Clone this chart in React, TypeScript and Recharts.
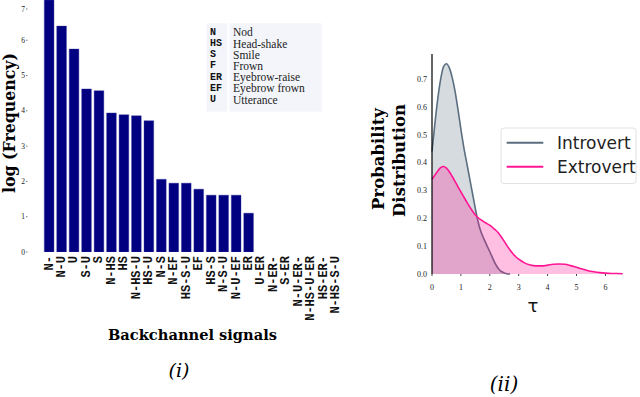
import React from 'react';
import { BarChart, Bar, XAxis, YAxis, AreaChart, Area } from 'recharts';

// ---- Panel (i): backchannel signal frequencies ----
const signals = ['N-', 'N-U', 'U', 'S-U', 'S', 'N-HS', 'HS', 'N-HS-U', 'HS-U', 'N-S', 'N-EF', 'HS-S-U', 'EF', 'HS-S', 'N-S-U', 'N-U-EF', 'ER', 'U-ER', 'N-ER-', 'S-ER', 'N-U-ER-', 'N-HS-U-ER', 'HS-ER-', 'N-HS-S-U'];
const logFrequency = [7.14, 6.4, 5.75, 4.62, 4.57, 3.94, 3.89, 3.86, 3.72, 2.06, 1.95, 1.95, 1.78, 1.61, 1.61, 1.61, 1.1, 0, 0, 0, 0, 0, 0, 0];
const freqTicks = [0, 1, 2, 3, 4, 5, 6, 7];

const legendCodes = ['N', 'HS', 'S', 'F', 'ER', 'EF', 'U'];
const legendNames = ['Nod', 'Head-shake', 'Smile', 'Frown', 'Eyebrow-raise', 'Eyebrow frown', 'Utterance'];

// ---- Panel (ii): density of tau ----
const tau = [0, 0.1, 0.2, 0.3, 0.4, 0.5, 0.6, 0.7, 0.8, 0.9, 1.0, 1.1, 1.2, 1.3, 1.4, 1.5, 1.6, 1.7, 1.8, 1.9, 2.0, 2.1, 2.2, 2.3, 2.4, 2.5, 2.6, 2.7, 2.8, 2.9, 3.0, 3.2, 3.4, 3.6, 3.8, 4.0, 4.2, 4.4, 4.6, 4.8, 5.0, 5.2, 5.4, 5.6, 5.8, 6.0, 6.2, 6.4, 6.6];
const introvert = [0.44, 0.54, 0.63, 0.70, 0.745, 0.755, 0.74, 0.705, 0.655, 0.59, 0.52, 0.455, 0.40, 0.345, 0.29, 0.235, 0.185, 0.15, 0.125, 0.102, 0.08, 0.057, 0.035, 0.019, 0.009, 0.004, 0.001, 0];
const extrovert = [0.34, 0.355, 0.37, 0.382, 0.386, 0.38, 0.367, 0.35, 0.332, 0.313, 0.295, 0.277, 0.259, 0.242, 0.226, 0.212, 0.202, 0.194, 0.187, 0.181, 0.175, 0.167, 0.158, 0.147, 0.133, 0.117, 0.101, 0.086, 0.073, 0.062, 0.053, 0.04, 0.032, 0.029, 0.029, 0.032, 0.035, 0.036, 0.035, 0.03, 0.024, 0.018, 0.012, 0.008, 0.005, 0.003, 0.002, 0.002, 0.001];
const tauTicks = [0, 1, 2, 3, 4, 5, 6];
const probTicks = [0, 0.1, 0.2, 0.3, 0.4, 0.5, 0.6, 0.7];

const barData = signals.map((s, i) => ({ signal: s, logFrequency: logFrequency[i] }));
const densityData = tau.map((t, i) => ({
  tau: t,
  introvert: i < introvert.length ? introvert[i] : null,
  extrovert: extrovert[i],
}));

const INTRO = '#5b6e80';
const EXTRO = '#ff1493';

const SignalTick = (props: any) => {
  const { x, y, payload } = props;
  return (
    <text
      x={x}
      y={y}
      transform={`rotate(-90 ${x} ${y})`}
      textAnchor="end"
      dominantBaseline="central"
      fontFamily="Liberation Mono"
      fontWeight="bold"
      fontSize={12}
      fill="#111"
    >
      {payload.value}
    </text>
  );
};

const FreqTick = (props: any) => {
  const { x, y, payload } = props;
  return (
    <g>
      <text x={x} y={y} textAnchor="end" dominantBaseline="central" fontFamily="Liberation Serif" fontSize={7.5} fill="#222" stroke="none">
        {payload.value}
      </text>
      <line x1={x + 1} x2={x + 2.5} y1={y} y2={y} stroke="#555" strokeWidth={0.8} />
    </g>
  );
};

export default function App() {
  return (
    <div style={{ position: 'absolute', left: 0, top: 0, width: 640, height: 397, background: '#fff', overflow: 'hidden' }}>
      <div style={{ position: 'absolute', left: 0, top: 0 }}>
        <BarChart width={360} height={397} data={barData} margin={{ top: 0, right: 17.5, bottom: 115, left: 13.27 }} barSize={9.7}>
          <XAxis dataKey="signal" interval={0} tickLine={false} axisLine={false} tickSize={0} tickMargin={4} height={30} tick={(p: any) => <SignalTick {...p} />} />
          <YAxis type="number" domain={[0, 7.14]} ticks={freqTicks} allowDataOverflow width={30} axisLine={false} tickLine={false} tickSize={0} tickMargin={18.3} tick={(p: any) => <FreqTick {...p} />} />
          <Bar dataKey="logFrequency" fill="#000080" stroke="#3a3aa0" strokeWidth={0.4} isAnimationActive={false} />
        </BarChart>
      </div>
      <div style={{ position: 'absolute', left: 360, top: 0 }}>
        <AreaChart width={280} height={397} data={densityData} margin={{ top: 54, right: 5.7, bottom: 93, left: 32 }}>
          <XAxis type="number" dataKey="tau" domain={[0, 7]} ticks={tauTicks} axisLine={false} tickSize={2} tickMargin={8} height={30} tickLine={{ stroke: '#444' }} tick={{ fontSize: 8, fill: '#222', stroke: 'none', fontFamily: 'Liberation Serif' }} />
          <YAxis type="number" domain={[0, 0.79]} ticks={probTicks} width={40} axisLine={{ stroke: '#000', strokeWidth: 1.2 }} tickLine={false} tickSize={0} tickMargin={5} tickFormatter={(v: number) => v.toFixed(1)} tick={{ fontSize: 8, fill: '#222', stroke: 'none', fontFamily: 'Liberation Serif' }} />
          <Area type="monotone" dataKey="introvert" stroke={INTRO} strokeWidth={1.6} fill={INTRO} fillOpacity={0.25} isAnimationActive={false} dot={false} activeDot={false} />
          <Area type="monotone" dataKey="extrovert" stroke={EXTRO} strokeWidth={1.6} fill={EXTRO} fillOpacity={0.27} isAnimationActive={false} dot={false} activeDot={false} />
        </AreaChart>
      </div>
      <svg width={640} height={397} style={{ position: 'absolute', left: 0, top: 0, pointerEvents: 'none' }}>
        {/* panel (i) axis titles */}
        <text x={15} y={123} transform="rotate(-90 15 123)" textAnchor="middle" fontFamily="DejaVu Serif" fontWeight="bold" fontSize={16} textLength={140} lengthAdjust="spacingAndGlyphs" fill="#000">
          log (Frequency)
        </text>
        <text x={192.5} y={339.5} textAnchor="middle" fontFamily="DejaVu Serif" fontWeight="bold" fontSize={14} textLength={169} lengthAdjust="spacingAndGlyphs" fill="#000">
          Backchannel signals
        </text>
        <text x={179} y={377} textAnchor="middle" fontFamily="DejaVu Serif" fontStyle="italic" fontSize={19} fill="#000">
          (i)
        </text>
        {/* panel (i) code table */}
        <rect x={206.7} y={23.3} width={20.6} height={88.4} fill="#f3f5fa" />
        <rect x={229.3} y={23.3} width={92.4} height={88.4} fill="#f3f5fa" />
        {legendCodes.map((c, i) => (
          <text key={c} x={210} y={32.3 + i * 11.2} dominantBaseline="central" fontFamily="Liberation Mono" fontWeight="bold" fontSize={10} fill="#111">
            {c}
          </text>
        ))}
        {legendNames.map((n, i) => (
          <text key={n} x={233} y={32.3 + i * 11.2} dominantBaseline="central" fontFamily="Liberation Serif" fontSize={11.5} fill="#222">
            {n}
          </text>
        ))}
        {/* panel (ii) titles */}
        <text x={384} y={159} transform="rotate(-90 384 159)" textAnchor="middle" fontFamily="DejaVu Serif" fontWeight="bold" fontSize={16.5} fill="#000">
          Probability
        </text>
        <text x={405} y={160.5} transform="rotate(-90 405 160.5)" textAnchor="middle" fontFamily="DejaVu Serif" fontWeight="bold" fontSize={16.5} fill="#000">
          Distribution
        </text>
        <text x={533} y={312} textAnchor="middle" fontFamily="DejaVu Sans" fontSize={18} fill="#111">
          τ
        </text>
        <text x={504} y={391} textAnchor="middle" fontFamily="DejaVu Serif" fontStyle="italic" fontSize={20} fill="#000">
          (ii)
        </text>
        {/* panel (ii) legend */}
        <rect x={501} y={128} width={135} height={55.5} rx={3} fill="#fff" stroke="#e2e2e2" strokeWidth={1} />
        <line x1={506.7} x2={543.3} y1={142.7} y2={142.7} stroke={INTRO} strokeWidth={2} />
        <line x1={506.7} x2={543.3} y1={166.7} y2={166.7} stroke={EXTRO} strokeWidth={2} />
        <text x={557} y={142.7} dominantBaseline="central" fontFamily="DejaVu Sans" fontSize={17} fill="#222">
          Introvert
        </text>
        <text x={557} y={166.7} dominantBaseline="central" fontFamily="DejaVu Sans" fontSize={17} fill="#222">
          Extrovert
        </text>
      </svg>
    </div>
  );
}
